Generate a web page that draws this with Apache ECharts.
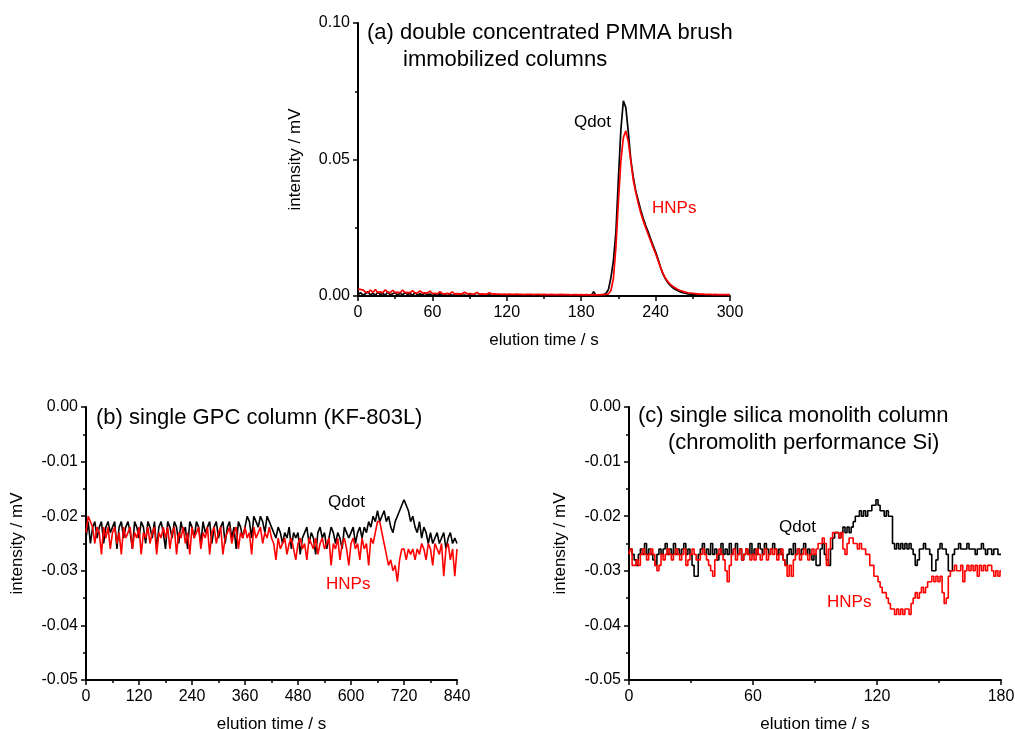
<!DOCTYPE html>
<html>
<head>
<meta charset="utf-8">
<script src="https://cdn.jsdelivr.net/npm/echarts@6/dist/echarts.min.js"></script>
<style>
  html, body { margin: 0; padding: 0; background: #fff; }
  #chart { width: 1015px; height: 729px; }
</style>
</head>
<body>
<div id="chart"></div>
<script>
// (a) PMMA brush columns, sampled every 2 s from 0 to 300 s
let stepA = 2;
let qdotA = [
    0.0004, 0.0012, 0.0003, 0.0008, 0.0016, 0.0004, 0.0010, 0.0003, 0.0014, 0.0005,
    0.0009, 0.0003, 0.0015, 0.0004, 0.0008, 0.0012, 0.0003, 0.0010, 0.0004, 0.0013,
    0.0005, 0.0009, 0.0003, 0.0012, 0.0004, 0.0008, 0.0003, 0.0011, 0.0004, 0.0007,
    0.0002, 0.0006, 0.0002, 0.0008, 0.0002, 0.0005, 0.0001, 0.0007, 0.0002, 0.0004,
    0.0001, 0.0006, 0.0002, 0.0003, 0.0001, 0.0005, 0.0002, 0.0003, 0.0001, 0.0004,
    0.0001, 0.0003, 0.0002, 0.0004, 0.0001, 0.0002, 0.0001, 0.0003, 0.0001, 0.0002,
    0.0001, 0.0003, 0.0001, 0.0002, 0.0001, 0.0002, 0.0001, 0.0003, 0.0001, 0.0002,
    0.0001, 0.0002, 0.0001, 0.0003, 0.0001, 0.0002, 0.0001, 0.0002, 0.0001, 0.0003,
    0.0001, 0.0002, 0.0001, 0.0002, 0.0001, 0.0003, 0.0001, 0.0002, 0.0001, 0.0002,
    0.0001, 0.0002, 0.0001, 0.0003, 0.0001, 0.0016, 0.0002, 0.0001, 0.0003, 0.0005,
    0.0010, 0.0024, 0.0068, 0.0130, 0.0235, 0.0430, 0.0610, 0.0715, 0.0690, 0.0600,
    0.0500, 0.0435, 0.0385, 0.0350, 0.0315, 0.0285, 0.0258, 0.0235, 0.0210, 0.0185,
    0.0162, 0.0135, 0.0105, 0.0080, 0.0062, 0.0048, 0.0038, 0.0030, 0.0024, 0.0019,
    0.0015, 0.0012, 0.0010, 0.0008, 0.0007, 0.0006, 0.0005, 0.0005, 0.0004, 0.0004,
    0.0004, 0.0003, 0.0003, 0.0004, 0.0003, 0.0003, 0.0003, 0.0003, 0.0003, 0.0003,
    0.0003
];
let hnpA = [
    0.0024, 0.0024, 0.0022, 0.0014, 0.0012, 0.0022, 0.0013, 0.0024, 0.0012, 0.0015,
    0.0012, 0.0023, 0.0013, 0.0012, 0.0021, 0.0012, 0.0014, 0.0012, 0.0022, 0.0012,
    0.0013, 0.0012, 0.0020, 0.0011, 0.0012, 0.0019, 0.0011, 0.0012, 0.0011, 0.0018,
    0.0009, 0.0010, 0.0008, 0.0016, 0.0009, 0.0008, 0.0010, 0.0008, 0.0015, 0.0008,
    0.0009, 0.0008, 0.0008, 0.0014, 0.0008, 0.0009, 0.0007, 0.0008, 0.0013, 0.0007,
    0.0008, 0.0007, 0.0007, 0.0012, 0.0007, 0.0008, 0.0007, 0.0007, 0.0006, 0.0007,
    0.0006, 0.0007, 0.0006, 0.0006, 0.0007, 0.0006, 0.0006, 0.0005, 0.0006, 0.0006,
    0.0006, 0.0005, 0.0006, 0.0006, 0.0005, 0.0006, 0.0005, 0.0005, 0.0006, 0.0005,
    0.0005, 0.0005, 0.0006, 0.0005, 0.0005, 0.0005, 0.0004, 0.0005, 0.0005, 0.0004,
    0.0005, 0.0004, 0.0005, 0.0004, 0.0004, 0.0005, 0.0004, 0.0004, 0.0005, 0.0005,
    0.0006, 0.0008, 0.0020, 0.0065, 0.0180, 0.0345, 0.0495, 0.0580, 0.0605, 0.0565,
    0.0495, 0.0425, 0.0380, 0.0340, 0.0305, 0.0276, 0.0250, 0.0226, 0.0202, 0.0178,
    0.0155, 0.0130, 0.0104, 0.0082, 0.0065, 0.0052, 0.0042, 0.0035, 0.0029, 0.0024,
    0.0020, 0.0017, 0.0014, 0.0012, 0.0011, 0.0010, 0.0009, 0.0008, 0.0007, 0.0007,
    0.0006, 0.0006, 0.0006, 0.0005, 0.0006, 0.0005, 0.0005, 0.0005, 0.0005, 0.0005,
    0.0005
];

// (b) single GPC column, sampled every 5 s from 0 to 840 s
let stepB = 5;
let qdotB = [
    -0.024, -0.021, -0.025, -0.022, -0.021, -0.024, -0.022, -0.021, -0.025, -0.022, -0.021, -0.023,
    -0.022, -0.021, -0.026, -0.022, -0.021, -0.024, -0.022, -0.021, -0.023, -0.026, -0.021, -0.022,
    -0.024, -0.021, -0.022, -0.025, -0.021, -0.022, -0.024, -0.021, -0.026, -0.022, -0.021, -0.023,
    -0.026, -0.021, -0.022, -0.024, -0.021, -0.022, -0.025, -0.021, -0.023, -0.022, -0.026, -0.021,
    -0.022, -0.024, -0.021, -0.022, -0.025, -0.021, -0.023, -0.022, -0.021, -0.025, -0.022, -0.021,
    -0.024, -0.022, -0.021, -0.025, -0.022, -0.021, -0.024, -0.022, -0.026, -0.021, -0.022, -0.024,
    -0.022, -0.020, -0.021, -0.024, -0.020, -0.021, -0.022, -0.020, -0.021, -0.023, -0.020, -0.021,
    -0.022, -0.023, -0.024, -0.022, -0.023, -0.025, -0.023, -0.024, -0.022, -0.026, -0.023, -0.024,
    -0.023, -0.027, -0.024, -0.023, -0.022, -0.025, -0.023, -0.024, -0.027, -0.023, -0.022, -0.024,
    -0.023, -0.026, -0.024, -0.022, -0.023, -0.025, -0.023, -0.024, -0.026, -0.022, -0.023, -0.024,
    -0.023, -0.022, -0.025, -0.023, -0.022, -0.024, -0.022, -0.023, -0.021, -0.022, -0.020, -0.021,
    -0.019, -0.021, -0.020, -0.019, -0.021, -0.020, -0.022, -0.023, -0.021, -0.020, -0.019, -0.018,
    -0.017, -0.018, -0.019, -0.021, -0.020, -0.022, -0.023, -0.021, -0.024, -0.022, -0.023, -0.025,
    -0.023, -0.025, -0.024, -0.023, -0.025, -0.024, -0.023, -0.026, -0.024, -0.023, -0.025, -0.024,
    -0.025
];
let hnpB = [
    -0.023, -0.020, -0.021, -0.022, -0.025, -0.022, -0.023, -0.027, -0.022, -0.024, -0.022, -0.026,
    -0.023, -0.022, -0.025, -0.023, -0.027, -0.022, -0.024, -0.023, -0.022, -0.026, -0.023, -0.024,
    -0.022, -0.027, -0.023, -0.024, -0.022, -0.025, -0.023, -0.022, -0.027, -0.023, -0.024, -0.022,
    -0.024, -0.022, -0.026, -0.023, -0.022, -0.027, -0.023, -0.024, -0.022, -0.025, -0.023, -0.027,
    -0.022, -0.024, -0.023, -0.022, -0.026, -0.023, -0.024, -0.022, -0.027, -0.023, -0.022, -0.025,
    -0.023, -0.022, -0.027, -0.024, -0.023, -0.022, -0.025, -0.023, -0.022, -0.026, -0.023, -0.024,
    -0.022, -0.024, -0.023, -0.027, -0.022, -0.024, -0.023, -0.022, -0.025, -0.023, -0.024, -0.022,
    -0.024, -0.025, -0.028, -0.024, -0.026, -0.025, -0.024, -0.027, -0.025, -0.024, -0.026, -0.028,
    -0.025, -0.024, -0.026, -0.025, -0.028, -0.024, -0.025, -0.026, -0.024, -0.027, -0.025, -0.024,
    -0.026, -0.025, -0.024, -0.029, -0.025, -0.026, -0.024, -0.028, -0.025, -0.024, -0.026, -0.029,
    -0.025, -0.024, -0.026, -0.025, -0.028, -0.024, -0.026, -0.025, -0.029, -0.024, -0.025, -0.023,
    -0.021, -0.021, -0.023, -0.025, -0.027, -0.029, -0.028, -0.030, -0.029, -0.032, -0.028, -0.026,
    -0.026, -0.028, -0.026, -0.027, -0.026, -0.028, -0.026, -0.027, -0.025, -0.026, -0.028, -0.025,
    -0.026, -0.029, -0.025, -0.026, -0.027, -0.025, -0.031, -0.026, -0.025, -0.028, -0.026, -0.031,
    -0.026
];

// (c) single silica monolith column, sampled every 1 s from 0 to 180 s
let stepC = 1;
let qdotC = [
    -0.027, -0.026, -0.027, -0.028, -0.029, -0.027, -0.026, -0.027, -0.025, -0.027,
    -0.026, -0.027, -0.028, -0.029, -0.027, -0.026, -0.027, -0.026, -0.025, -0.027,
    -0.026, -0.027, -0.025, -0.027, -0.026, -0.027, -0.026, -0.025, -0.027, -0.026,
    -0.027, -0.029, -0.031, -0.031, -0.027, -0.026, -0.025, -0.027, -0.026, -0.027,
    -0.025, -0.027, -0.026, -0.028, -0.027, -0.025, -0.027, -0.026, -0.027, -0.025,
    -0.027, -0.026, -0.025, -0.027, -0.026, -0.028, -0.027, -0.026, -0.027, -0.025,
    -0.027, -0.026, -0.027, -0.025, -0.026, -0.027, -0.025, -0.026, -0.027, -0.026,
    -0.025, -0.026, -0.027, -0.026, -0.027, -0.028, -0.029, -0.027, -0.026, -0.027,
    -0.025, -0.027, -0.026, -0.027, -0.026, -0.025, -0.027, -0.026, -0.027, -0.028,
    -0.027, -0.029, -0.029, -0.026, -0.025, -0.027, -0.028, -0.029, -0.026, -0.024,
    -0.023, -0.023, -0.024, -0.023, -0.022, -0.023, -0.022, -0.023, -0.022, -0.021,
    -0.020, -0.020, -0.019, -0.020, -0.019, -0.020, -0.019, -0.019, -0.018, -0.018,
    -0.017, -0.018, -0.019, -0.019, -0.020, -0.019, -0.020, -0.020, -0.025, -0.026,
    -0.025, -0.026, -0.025, -0.026, -0.025, -0.026, -0.025, -0.026, -0.027, -0.029,
    -0.028, -0.026, -0.026, -0.025, -0.026, -0.026, -0.027, -0.030, -0.030, -0.028,
    -0.026, -0.025, -0.026, -0.026, -0.027, -0.030, -0.030, -0.027, -0.026, -0.026,
    -0.025, -0.026, -0.026, -0.026, -0.025, -0.026, -0.026, -0.026, -0.027, -0.026,
    -0.026, -0.025, -0.026, -0.027, -0.026, -0.026, -0.027, -0.026, -0.026, -0.027,
    -0.027
];
let hnpC = [
    -0.027, -0.026, -0.029, -0.029, -0.028, -0.029, -0.027, -0.026, -0.027, -0.028,
    -0.027, -0.026, -0.027, -0.029, -0.030, -0.029, -0.027, -0.028, -0.027, -0.026,
    -0.027, -0.028, -0.027, -0.026, -0.027, -0.028, -0.027, -0.026, -0.029, -0.028,
    -0.027, -0.026, -0.027, -0.028, -0.028, -0.027, -0.026, -0.027, -0.028, -0.029,
    -0.030, -0.031, -0.028, -0.027, -0.026, -0.027, -0.028, -0.030, -0.032, -0.029,
    -0.027, -0.026, -0.028, -0.027, -0.026, -0.028, -0.027, -0.026, -0.027, -0.028,
    -0.027, -0.028, -0.026, -0.027, -0.028, -0.027, -0.026, -0.028, -0.027, -0.026,
    -0.027, -0.026, -0.028, -0.027, -0.026, -0.028, -0.029, -0.031, -0.029, -0.031,
    -0.028, -0.027, -0.026, -0.028, -0.027, -0.026, -0.027, -0.028, -0.027, -0.026,
    -0.027, -0.026, -0.025, -0.025, -0.024, -0.025, -0.029, -0.026, -0.024, -0.023,
    -0.023, -0.023, -0.024, -0.023, -0.026, -0.027, -0.025, -0.024, -0.024, -0.025,
    -0.025, -0.026, -0.025, -0.026, -0.026, -0.027, -0.027, -0.029, -0.029, -0.031,
    -0.031, -0.032, -0.033, -0.034, -0.034, -0.035, -0.036, -0.037, -0.037, -0.038,
    -0.037, -0.038, -0.037, -0.038, -0.037, -0.037, -0.038, -0.036, -0.035, -0.034,
    -0.035, -0.034, -0.033, -0.034, -0.033, -0.032, -0.032, -0.031, -0.032, -0.031,
    -0.032, -0.031, -0.034, -0.036, -0.035, -0.031, -0.030, -0.030, -0.029, -0.030,
    -0.030, -0.029, -0.032, -0.030, -0.029, -0.030, -0.029, -0.030, -0.029, -0.031,
    -0.029, -0.030, -0.029, -0.030, -0.029, -0.029, -0.030, -0.031, -0.030, -0.031,
    -0.030
];

let FONT = '"Liberation Sans", Arial, sans-serif';

function toPairs(values, step) {
    return values.map(function (v, i) { return [i * step, v]; });
}

function xAxisFor(gridIndex, max, interval) {
    return {
        gridIndex: gridIndex, type: 'value', min: 0, max: max, interval: interval,
        name: 'elution time / s', nameLocation: 'middle', nameGap: 36,
        nameTextStyle: { fontFamily: FONT, fontSize: 17, color: '#000' },
        axisLine: { onZero: false, lineStyle: { color: '#000', width: 2 } },
        axisTick: { inside: false, length: 5, lineStyle: { color: '#000', width: 1.5 } },
        minorTick: { show: true, splitNumber: 2, length: 3, lineStyle: { color: '#000', width: 1.5 } },
        axisLabel: { fontFamily: FONT, fontSize: 16, color: '#000', margin: 9 },
        splitLine: { show: false }
    };
}

function yAxisFor(gridIndex, min, max, interval, gap) {
    return {
        gridIndex: gridIndex, type: 'value', min: min, max: max, interval: interval,
        name: 'intensity / mV', nameLocation: 'middle', nameGap: gap, nameRotate: 90,
        nameTextStyle: { fontFamily: FONT, fontSize: 17, color: '#000' },
        axisLine: { onZero: false, lineStyle: { color: '#000', width: 2 } },
        axisTick: { inside: false, length: 5, lineStyle: { color: '#000', width: 1.5 } },
        minorTick: { show: true, splitNumber: 2, length: 3, lineStyle: { color: '#000', width: 1.5 } },
        axisLabel: {
            fontFamily: FONT, fontSize: 16, color: '#000', margin: 8,
            formatter: function (v) { return v.toFixed(2); }
        },
        splitLine: { show: false }
    };
}

function lineSeries(idx, data, color, step, width) {
    return {
        type: 'line', xAxisIndex: idx, yAxisIndex: idx, data: data,
        showSymbol: false, step: step, silent: true,
        lineStyle: { color: color, width: width }
    };
}

function label(x, y, text, color, size) {
    return {
        type: 'text', x: x, y: y, silent: true,
        style: { text: text, fill: color, font: size + 'px ' + FONT, verticalAlign: 'middle' }
    };
}

let chart = echarts.init(document.getElementById('chart'), null, { renderer: 'canvas' });

chart.setOption({
    animation: false,
    backgroundColor: '#fff',
    grid: [
        { left: 358, top: 23, width: 372, height: 273, outerBoundsMode: 'none', containLabel: false },
        { left: 86, top: 407, width: 371, height: 273, outerBoundsMode: 'none', containLabel: false },
        { left: 629, top: 407, width: 372, height: 273, outerBoundsMode: 'none', containLabel: false }
    ],
    xAxis: [
        xAxisFor(0, 300, 60),
        xAxisFor(1, 840, 120),
        xAxisFor(2, 180, 60)
    ],
    yAxis: [
        yAxisFor(0, 0, 0.1, 0.05, 54),
        yAxisFor(1, -0.05, 0, 0.01, 60),
        yAxisFor(2, -0.05, 0, 0.01, 60)
    ],
    series: [
        lineSeries(0, toPairs(qdotA, stepA), '#000', false, 1.7),
        lineSeries(0, toPairs(hnpA, stepA), '#ff0000', false, 1.7),
        lineSeries(1, toPairs(qdotB, stepB), '#000', false, 1.6),
        lineSeries(1, toPairs(hnpB, stepB), '#ff0000', false, 1.6),
        lineSeries(2, toPairs(qdotC, stepC), '#000', 'middle', 1.6),
        lineSeries(2, toPairs(hnpC, stepC), '#ff0000', 'middle', 1.6)
    ],
    graphic: [
        label(367, 33, '(a) double concentrated PMMA brush', '#000', 22),
        label(403, 60, 'immobilized columns', '#000', 22),
        label(96, 418, '(b) single GPC column (KF-803L)', '#000', 22),
        label(638, 416, '(c) single silica monolith column', '#000', 22),
        label(668, 443, '(chromolith performance Si)', '#000', 22),
        label(574, 122, 'Qdot', '#000', 17),
        label(652, 208, 'HNPs', '#ff0000', 17),
        label(328, 502, 'Qdot', '#000', 17),
        label(326, 584, 'HNPs', '#ff0000', 17),
        label(779, 527, 'Qdot', '#000', 17),
        label(827, 602, 'HNPs', '#ff0000', 17)
    ]
});
</script>
</body>
</html>
